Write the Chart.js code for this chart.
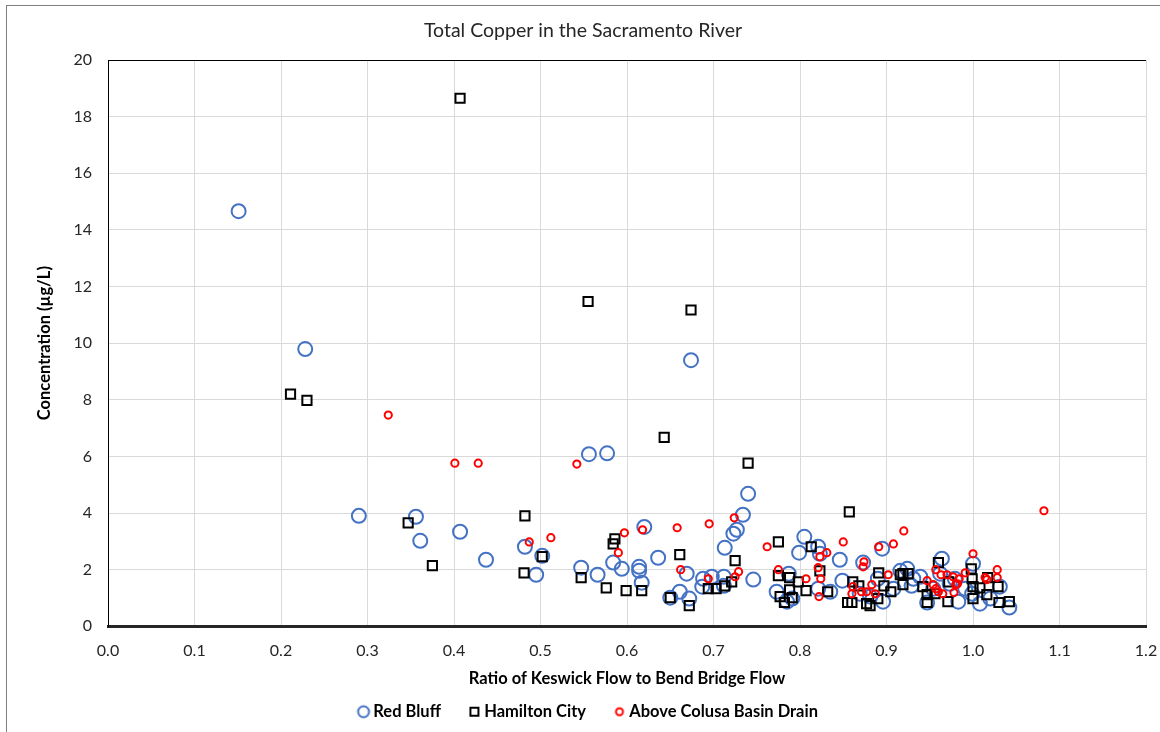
<!DOCTYPE html>
<html>
<head>
<meta charset="utf-8">
<script src="https://cdn.jsdelivr.net/npm/chart.js@4.4.1/dist/chart.umd.min.js"></script>
<style>
  html, body { margin: 0; padding: 0; background: #fff; }
  #wrap { position: relative; width: 1160px; height: 732px; }
  #frame { position: absolute; left: 6px; top: 5px; width: 1170px; height: 740px; border: 1px solid #7f7f7f; box-sizing: border-box; }
  canvas { position: absolute; left: 0; top: 0; }
</style>
</head>
<body>
<div id="wrap">
  <div id="frame"></div>
  <canvas id="c" width="1160" height="732"></canvas>
</div>
<script>
const chartTitle = "Total Copper in the Sacramento River";
const xAxisTitle = "Ratio of Keswick Flow to Bend Bridge Flow";
const yAxisTitle = "Concentration (µg/L)";
const seriesNames = ["Red Bluff", "Hamilton City", "Above Colusa Basin Drain"];

// Red Bluff: [ratio, concentration]
const redBluff = [
  [0.151,14.66],[0.228,9.79],[0.290,3.90],[0.356,3.87],[0.361,3.02],[0.407,3.34],[0.437,2.35],
  [0.482,2.81],[0.495,1.82],[0.502,2.49],[0.547,2.07],[0.556,6.08],[0.566,1.82],[0.577,6.11],
  [0.584,2.25],[0.594,2.03],[0.614,2.10],[0.614,1.96],[0.617,1.54],[0.620,3.51],[0.636,2.42],
  [0.650,1.01],[0.661,1.22],[0.669,1.86],[0.672,0.98],[0.674,9.40],[0.688,1.68],[0.687,1.40],
  [0.698,1.75],[0.712,1.75],[0.713,2.77],[0.712,1.43],[0.723,3.27],[0.727,3.41],[0.734,3.94],
  [0.740,4.68],[0.746,1.65],[0.773,1.22],[0.787,1.86],[0.785,0.87],[0.791,0.98],[0.799,2.60],
  [0.805,3.16],[0.821,2.81],[0.823,2.56],[0.846,2.35],[0.849,1.61],[0.821,1.33],[0.835,1.22],
  [0.873,2.25],[0.895,2.74],[0.869,1.15],[0.881,1.05],[0.890,1.68],[0.896,0.87],[0.908,1.33],
  [0.916,1.96],[0.924,2.03],[0.931,1.68],[0.939,1.75],[0.929,1.43],[0.947,0.84],[0.954,1.33],
  [0.964,2.39],[0.973,1.50],[0.983,0.87],[0.991,1.33],[0.999,1.15],[1.000,2.21],[1.008,0.80],
  [1.020,0.98],[1.031,1.40],[1.042,0.66],[0.962,1.86],[0.979,1.68]
];

// Hamilton City: [ratio, concentration]
const hamiltonCity = [
  [0.211,8.20],[0.230,7.98],[0.347,3.65],[0.375,2.14],[0.407,18.65],[0.482,3.90],[0.481,1.89],
  [0.502,2.46],[0.547,1.72],[0.555,11.47],[0.576,1.36],[0.586,3.09],[0.584,2.91],[0.599,1.26],
  [0.617,1.26],[0.643,6.67],[0.650,1.01],[0.661,2.53],[0.672,0.73],[0.674,11.17],[0.694,1.33],
  [0.703,1.33],[0.713,1.43],[0.721,1.57],[0.725,2.32],[0.740,5.76],[0.775,2.98],[0.775,1.79],
  [0.788,1.72],[0.788,1.29],[0.798,1.57],[0.807,1.26],[0.777,1.05],[0.782,0.84],[0.791,1.01],
  [0.813,2.81],[0.823,1.96],[0.832,1.22],[0.857,4.04],[0.861,1.57],[0.868,1.43],[0.855,0.84],
  [0.860,0.84],[0.877,0.80],[0.881,0.73],[0.890,0.98],[0.891,1.89],[0.897,1.43],[0.905,1.22],
  [0.916,1.82],[0.919,1.86],[0.925,1.86],[0.919,1.47],[0.942,1.40],[0.947,1.12],[0.947,0.84],
  [0.956,1.15],[0.960,2.25],[0.971,0.87],[0.972,1.57],[0.998,2.03],[0.999,1.68],[1.000,1.40],
  [1.000,0.98],[1.008,1.36],[1.016,1.12],[1.017,1.72],[1.029,1.40],[1.030,0.84],[1.042,0.87]
];

// Above Colusa Basin Drain: [ratio, concentration]
const aboveColusa = [
  [0.324,7.46],[0.401,5.76],[0.428,5.76],[0.487,2.98],[0.512,3.13],[0.542,5.73],[0.590,2.60],
  [0.597,3.30],[0.618,3.41],[0.658,3.48],[0.662,2.00],[0.694,1.68],[0.695,3.62],[0.724,3.83],
  [0.729,1.93],[0.725,1.75],[0.762,2.81],[0.775,2.00],[0.807,1.68],[0.821,2.07],[0.823,2.46],
  [0.831,2.60],[0.824,1.68],[0.822,1.05],[0.850,2.98],[0.891,2.81],[0.908,2.91],[0.920,3.37],
  [0.874,2.28],[0.873,2.10],[0.902,1.82],[0.883,1.47],[0.861,1.40],[0.860,1.15],[0.871,1.22],
  [0.877,1.22],[0.887,1.15],[0.947,1.61],[0.957,2.00],[0.963,1.82],[0.970,1.82],[0.977,1.75],
  [0.984,1.68],[0.991,1.89],[0.954,1.47],[0.957,1.33],[0.960,1.22],[0.965,1.15],[0.980,1.47],
  [0.978,1.19],[1.000,2.56],[1.014,1.72],[1.016,1.65],[1.028,2.00],[1.028,1.72],[1.082,4.08],
  [0.982,1.50]
];

const xTicks = [0.0,0.1,0.2,0.3,0.4,0.5,0.6,0.7,0.8,0.9,1.0,1.1,1.2];
const yTicks = [0,2,4,6,8,10,12,14,16,18,20];

const toPts = arr => arr.map(p => ({x: p[0], y: p[1]}));
const FONT = "Lato, 'Open Sans', sans-serif";

// small legend marker images
function marker(kind, color, size) {
  const c = document.createElement('canvas');
  c.width = 16; c.height = 16;
  const g = c.getContext('2d');
  g.strokeStyle = color; g.lineWidth = 2;
  g.beginPath();
  if (kind === 'rect') g.rect(8 - size / 2, 8 - size / 2, size, size);
  else g.arc(8, 8, size / 2, 0, Math.PI * 2);
  g.stroke();
  return c;
}
const legendMarkers = [marker('circle', '#4472C4', 11), marker('rect', '#000000', 8), marker('circle', '#FF0000', 7)];

const plotBorder = {
  id: 'plotBorder',
  afterLayout(chart) {
    if (chart.legend) { chart.legend.left += 7; chart.legend.right += 7; }
  },
  afterDatasetsDraw(chart) {
    const {ctx, chartArea: a} = chart;
    ctx.save();
    ctx.strokeStyle = '#000';
    ctx.lineWidth = 1;
    ctx.beginPath();
    ctx.moveTo(a.left + 0.5, a.bottom);
    ctx.lineTo(a.left + 0.5, a.top + 0.5);
    ctx.lineTo(a.right, a.top + 0.5);
    ctx.stroke();
    ctx.restore();
  }
};

new Chart(document.getElementById('c'), {
  type: 'scatter',
  data: {
    datasets: [
      { label: seriesNames[0], data: toPts(redBluff), order: 3,
        pointStyle: 'circle', pointRadius: 7, pointHoverRadius: 7, borderWidth: 2,
        borderColor: '#4472C4', backgroundColor: 'rgba(0,0,0,0)' },
      { label: seriesNames[1], data: toPts(hamiltonCity), order: 2,
        pointStyle: 'rect', pointRadius: 6.5, pointHoverRadius: 6.5, borderWidth: 2,
        borderColor: '#000000', backgroundColor: 'rgba(0,0,0,0)' },
      { label: seriesNames[2], data: toPts(aboveColusa), order: 1,
        pointStyle: 'circle', pointRadius: 3.6, pointHoverRadius: 3.6, borderWidth: 2,
        borderColor: '#FF0000', backgroundColor: 'rgba(0,0,0,0)' }
    ]
  },
  options: {
    responsive: false,
    animation: false,
    events: [],
    layout: { padding: { left: 20, right: 14, top: 8, bottom: 2 } },
    plugins: {
      title: { display: true, text: chartTitle, color: '#262626',
        font: { family: FONT, size: 19.5, weight: 'normal' }, padding: { top: 11, bottom: 17.6 } },
      legend: { position: 'bottom',
        labels: { usePointStyle: true, boxWidth: 3, boxHeight: 6, padding: 32, color: '#000',
          font: { family: FONT, size: 16.5, weight: 'bold' },
          generateLabels: (chart) => chart.data.datasets.map((ds, i) => ({
            text: ds.label, datasetIndex: i, pointStyle: legendMarkers[i],
            fillStyle: 'rgba(0,0,0,0)', strokeStyle: ds.borderColor, lineWidth: 2,
            fontColor: '#000', hidden: false
          })),
          sort: (a, b) => a.datasetIndex - b.datasetIndex } },
      tooltip: { enabled: false }
    },
    scales: {
      x: {
        type: 'linear', min: 0, max: 1.2,
        afterBuildTicks: s => { s.ticks = xTicks.map(v => ({value: v})); },
        afterFit: s => { s.paddingRight = 0; s.paddingLeft = 0; },
        ticks: { callback: v => v.toFixed(1), color: '#262626', padding: 15,
          font: { family: FONT, size: 16 } },
        grid: { color: '#d9d9d9', lineWidth: 1, drawTicks: false },
        border: { color: '#262626', width: 3 },
        title: { display: true, text: xAxisTitle, color: '#000',
          font: { family: FONT, size: 16.5, weight: 'bold' }, padding: { top: -7.1, bottom: -16.7 } }
      },
      y: {
        type: 'linear', min: 0, max: 20,
        afterBuildTicks: s => { s.ticks = yTicks.map(v => ({value: v})); },
        afterFit: s => { s.width = 88; },
        ticks: { color: '#262626', padding: 16, font: { family: FONT, size: 16 } },
        grid: { color: '#d9d9d9', lineWidth: 1, drawTicks: false },
        border: { color: '#000', width: 1 },
        title: { display: true, text: yAxisTitle, color: '#000',
          font: { family: FONT, size: 16.5, weight: 'bold' }, padding: { top: 15, bottom: 0 } }
      }
    }
  },
  plugins: [plotBorder]
});
</script>
</body>
</html>
